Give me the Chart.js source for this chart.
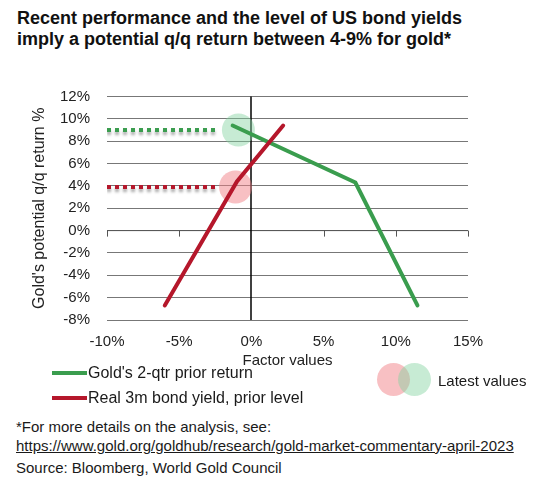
<!DOCTYPE html>
<html lang="en">
<head>
    <meta charset="UTF-8">
    <title>Gold q/q return vs factors</title>
    <script src="https://cdn.jsdelivr.net/npm/chart.js"></script>
    <style>
        body {
            margin: 0;
            width: 543px;
            height: 487px;
            position: relative;
            background: #fff;
            font-family: "Liberation Sans", Arial, sans-serif;
            color: #1a1a1a;
            overflow: hidden;
        }
        .title {
            position: absolute;
            left: 17px;
            top: 8px;
            font-size: 18px;
            font-weight: bold;
            line-height: 21px;
            color: #111;
        }
        #chartBox {
            position: absolute;
            left: 0;
            top: 80px;
        }
        .legLine {
            position: absolute;
            left: 52px;
            width: 35px;
            height: 4px;
        }
        .legText {
            position: absolute;
            left: 88px;
            font-size: 16px;
            line-height: 20px;
        }
        .dot {
            position: absolute;
            width: 33px;
            height: 33px;
            border-radius: 50%;
        }
        .note {
            position: absolute;
            left: 16px;
            font-size: 15px;
            line-height: 18px;
        }
    </style>
</head>
<body>
    <div class="title">Recent performance and the level of US bond yields<br>imply a potential q/q return between 4-9% for gold*</div>

    <div id="chartBox"><canvas id="goldChart" width="543" height="290"></canvas></div>

    <!-- legend -->
    <div class="legLine" style="top:371px;background:#3a9d4e"></div>
    <div class="legText" style="top:363px">Gold's 2-qtr prior return</div>
    <div class="legLine" style="top:396px;background:#b5172b"></div>
    <div class="legText" style="top:388px">Real 3m bond yield, prior level</div>
    <div class="dot" style="left:377px;top:363px;background:rgba(242,130,135,0.5)"></div>
    <div class="dot" style="left:398px;top:363px;background:rgba(130,210,160,0.45)"></div>
    <div class="legText" style="left:438px;top:371px;font-size:15px">Latest values</div>

    <div class="note" style="top:418px">*For more details on the analysis, see:</div>
    <div class="note" style="top:437px;text-decoration:underline">https://www.gold.org/goldhub/research/gold-market-commentary-april-2023</div>
    <div class="note" style="top:459px">Source: Bloomberg, World Gold Council</div>

    <script>
        // factor value (x, %) -> potential q/q return (y, %)
        const goldFactorX = [-1.3, 7.2, 11.5];
        const goldReturnY = [9.4, 4.3, -6.7];
        const yieldFactorX = [-6.0, -1.0, 2.2];
        const yieldReturnY = [-6.7, 4.4, 9.4];

        // latest values (circles) and the dotted reading lines
        const latestX = [-1.1, -0.9];      // yield, gold
        const latestY = [3.9, 9.0];
        const readFromX = -10;
        const readToX = -2.4;

        const xTicks = [-10, -5, 0, 5, 10, 15];
        const yTicks = [-8, -6, -4, -2, 0, 2, 4, 6, 8, 10, 12];

        const green = '#3a9d4e';
        const red = '#b5172b';

        const toPts = (xs, ys) => xs.map((x, i) => ({ x: x, y: ys[i] }));

        // zero axes + small ticks on the 0% line
        const axisPlugin = {
            id: 'axisLines',
            beforeDatasetsDraw(chart) {
                const { ctx, chartArea, scales } = chart;
                const y0 = scales.y.getPixelForValue(0);
                ctx.save();
                ctx.strokeStyle = '#555';
                ctx.lineWidth = 1;
                ctx.beginPath();
                ctx.moveTo(chartArea.left, y0);
                ctx.lineTo(chartArea.right, y0);
                xTicks.forEach(v => {
                    if (v === 0) return;
                    const px = Math.round(scales.x.getPixelForValue(v)) + 0.5;
                    ctx.moveTo(px, y0);
                    ctx.lineTo(px, y0 + 6);
                });
                ctx.stroke();
                const x0 = Math.round(scales.x.getPixelForValue(0));
                ctx.strokeStyle = '#000';
                ctx.lineWidth = 1.5;
                ctx.beginPath();
                ctx.moveTo(x0, chartArea.top);
                ctx.lineTo(x0, chartArea.bottom);
                ctx.stroke();
                ctx.restore();
            }
        };

        // soft shadow under the dotted lines
        const shadowPlugin = {
            id: 'dotShadow',
            beforeDatasetDraw(chart, args) {
                if (!chart.data.datasets[args.index].shadow) return;
                const ctx = chart.ctx;
                ctx.save();
                ctx.shadowColor = 'rgba(0,0,0,0.35)';
                ctx.shadowBlur = 3;
                ctx.shadowOffsetY = 3;
            },
            afterDatasetDraw(chart, args) {
                if (!chart.data.datasets[args.index].shadow) return;
                chart.ctx.restore();
            }
        };

        const font = { family: '"Liberation Sans", Arial, sans-serif', size: 15 };
        const titleFont = { family: '"Liberation Sans", Arial, sans-serif', size: 16 };

        new Chart(document.getElementById('goldChart'), {
            type: 'scatter',
            data: {
                datasets: [
                    {
                        label: 'Real 3m bond yield, prior level',
                        data: toPts(yieldFactorX, yieldReturnY),
                        showLine: true, borderColor: red, borderWidth: 4,
                        pointRadius: 0, borderCapStyle: 'round'
                    },
                    {
                        label: "Gold's 2-qtr prior return",
                        data: toPts(goldFactorX, goldReturnY),
                        showLine: true, borderColor: green, borderWidth: 4,
                        pointRadius: 0, borderCapStyle: 'round'
                    },
                    {
                        label: 'gold latest level',
                        data: [{ x: readFromX, y: latestY[1] }, { x: readToX, y: latestY[1] }],
                        showLine: true, borderColor: green, borderWidth: 4,
                        borderDash: [4, 4], pointRadius: 0, shadow: true
                    },
                    {
                        label: 'yield latest level',
                        data: [{ x: readFromX, y: latestY[0] }, { x: readToX, y: latestY[0] }],
                        showLine: true, borderColor: red, borderWidth: 4,
                        borderDash: [4, 4], pointRadius: 0, shadow: true
                    },
                    {
                        label: 'Latest values',
                        data: toPts(latestX, latestY),
                        pointRadius: 16.5, borderWidth: 0,
                        pointBackgroundColor: ['rgba(242,130,135,0.5)', 'rgba(130,210,160,0.45)']
                    }
                ]
            },
            options: {
                responsive: false,
                devicePixelRatio: 1,
                animation: false,
                layout: { padding: { left: 27, right: 75, top: 14, bottom: 0 } },
                plugins: { legend: { display: false }, tooltip: { enabled: false } },
                scales: {
                    x: {
                        type: 'linear', min: -10, max: 15,
                        afterBuildTicks: s => { s.ticks = xTicks.map(v => ({ value: v })); },
                        afterFit: s => { s.height = 50; },
                        grid: { display: false, drawTicks: false },
                        border: { display: false },
                        ticks: { font: font, color: '#222', padding: 13, callback: v => v + '%' },
                        title: { display: true, text: 'Factor values', font: font, color: '#222', padding: { top: 0, bottom: 0 } }
                    },
                    y: {
                        min: -8, max: 12,
                        afterBuildTicks: s => { s.ticks = yTicks.map(v => ({ value: v })); },
                        afterFit: s => { s.width = 80; },
                        grid: { color: '#777', lineWidth: 1, drawTicks: true, tickLength: 17, tickColor: 'rgba(0,0,0,0)' },
                        border: { display: false },
                        ticks: { font: font, color: '#222', padding: 0, callback: v => v + '%' },
                        title: { display: true, text: "Gold's potential q/q return %", font: titleFont, color: '#222', padding: { top: 3, bottom: 4 } }
                    }
                }
            },
            plugins: [axisPlugin, shadowPlugin]
        });
    </script>
</body>
</html>
